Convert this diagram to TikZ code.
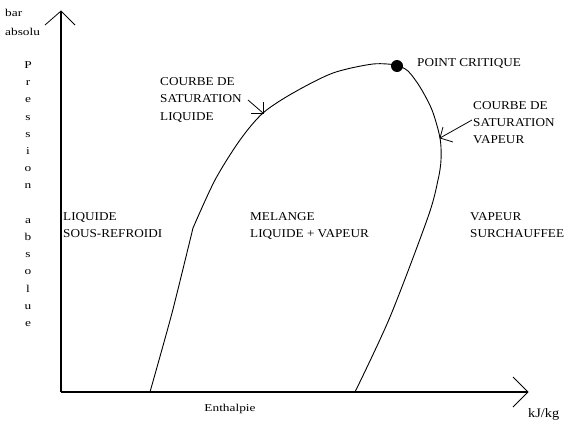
\documentclass[tikz,border=0pt]{standalone}
\usepackage{fontspec}
\setmainfont{Liberation Serif}
\newfontfamily\lblfont[FakeStretch=1.1]{Liberation Serif}
\newfontfamily\smlfont[FakeStretch=1.27]{Liberation Serif}
\begin{document}
\begin{tikzpicture}[x=1pt,y=-1pt,
  lbl/.style={font={\lblfont\fontsize{12}{14}\selectfont},inner sep=0pt,anchor=base west},
  sml/.style={font={\smlfont\fontsize{10.5}{12}\selectfont},inner sep=0pt,anchor=base west},
  axisline/.style={line width=1.3pt},
  curveline/.style={line width=0.9pt},
  thin/.style={line width=0.8pt}]
\useasboundingbox (0,0) rectangle (573,426);
% axes
\coordinate (O) at (61,392);
\coordinate (Ytop) at (61,11);
\coordinate (Xend) at (528,392);
\draw[axisline] (O) -- (Ytop);
\draw[axisline] (O) -- (Xend);
\draw[thin] (45,25) -- (Ytop) -- (75,25);
\draw[thin] (513,377) -- (Xend) -- (513,407);
% saturation curve
\draw[curveline] plot[smooth,tension=0.4] coordinates {(150,392) (172,313) (193,228)};
\draw[curveline] plot[smooth,tension=0.5] coordinates {(193,228) (215,180) (240,140) (263,113) (293,93) (333,73) (373,64) (397,65)};
\draw[curveline] plot[smooth,tension=0.5] coordinates {(397,65) (408,71) (420,87) (432,110) (440,138) (441,160) (438,180) (428,217) (390,317) (355,392)};
\node[circle,fill=black,inner sep=0pt,minimum size=12pt] (crit) at (397,66) {};
% labels
\node[lbl] (pc) at (417,66) {POINT CRITIQUE};
\node[lbl] (cl1) at (160,85) {COURBE DE};
\node[lbl] (cl2) at (160,102.5) {SATURATION};
\node[lbl] (cl3) at (160,120) {LIQUIDE};
\node[lbl] (cv1) at (473,109) {COURBE DE};
\node[lbl] (cv2) at (473,126) {SATURATION};
\node[lbl] (cv3) at (473,143) {VAPEUR};
\node[lbl] (l1) at (63,220) {LIQUIDE};
\node[lbl] (l2) at (63,237) {SOUS-REFROIDI};
\node[lbl] (m1) at (250,220) {MELANGE};
\node[lbl] (m2) at (250,237) {LIQUIDE + VAPEUR};
\node[lbl] (s1) at (470,220) {VAPEUR};
\node[lbl] (s2) at (470,237) {SURCHAUFFEE};
% pointers
\coordinate (tipL) at (263,113);
\coordinate (tipV) at (440,138);
\draw[thin] (248,100) -- (tipL);
\draw[thin] (263,102) -- (tipL) -- (251,113);
\draw[thin] (472,120) -- (tipV);
\draw[thin] (443,127) -- (tipV) -- (453,142);
% axis labels
\node[sml] (bar) at (5,16) {bar};
\node[sml] (abs) at (5,35) {absolu};
\foreach \ch [count=\i] in {P,r,e,s,s,i,o,n,{},a,b,s,o,l,u,e}
  \node[sml,anchor=base] (v\i) at (28,{68.5+(\i-1)*17.2}) {\ch};
\node[sml,anchor=base] (enth) at (230,411) {Enthalpie};
\node[lbl,anchor=base west,font={\lblfont\fontsize{13}{15}\selectfont}] (unit) at (528,417) {kJ/kg};
\end{tikzpicture}
\end{document}
